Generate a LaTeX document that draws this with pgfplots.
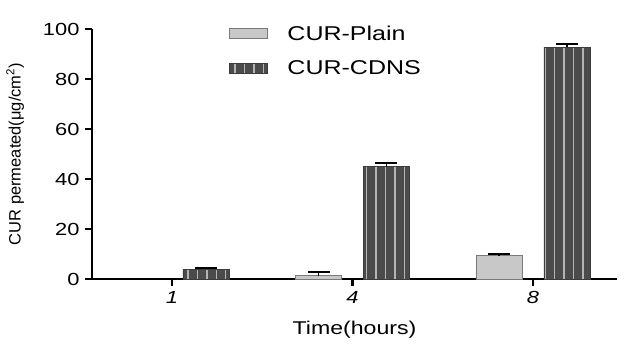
\documentclass[border=0pt]{standalone}
\usepackage{fontspec}
\setmainfont{Liberation Sans}[FakeStretch=1.25]
\newfontfamily\ylfont{Liberation Sans}
\usepackage{pgfplots}
\pgfplotsset{compat=1.18}
\usetikzlibrary{patterns.meta}
\definecolor{plainfill}{HTML}{C8C8C8}
\definecolor{plainedge}{HTML}{7A7A7A}
\definecolor{darkfill}{HTML}{4B4B4B}
\definecolor{stripe}{HTML}{B4B4B4}
\begin{document}
\begin{tikzpicture}
\begin{axis}[
  name=ax,
  scale only axis,
  width=525bp, height=250bp,
  xmin=-0.443, xmax=2.465,
  ymin=0, ymax=100,
  axis lines=left,
  axis line style={-, line width=2.5bp, black},
  ytick={0,20,40,60,80,100},
  xtick={0,1,2},
  xticklabels={\textit{1},\textit{4},\textit{8}},
  tick align=outside,
  major tick length=7bp,
  tick style={line width=2.5bp, black},
  /pgf/number format/assume math mode=true,
  tick label style={font=\fontsize{17.5bp}{20bp}\selectfont},
  yticklabel style={xshift=-2bp},
  xticklabel style={yshift=-2bp},
  xlabel={Time(hours)},
  xlabel style={font=\fontsize{18.5bp}{22bp}\selectfont, yshift=-10bp},
  ylabel={\ylfont CUR permeated(μg/cm\textsuperscript{2})},
  ylabel style={font=\fontsize{16.5bp}{19bp}\selectfont, yshift=12bp},
  legend style={draw=none, fill=none, at={(0.26,1.022)}, anchor=north west,
    font=\fontsize{20bp}{24bp}\selectfont, row sep=15bp, inner sep=0pt,
    /tikz/every odd column/.append style={column sep=18bp}},
  legend cell align=left,
  clip=false,
]
\addplot[ybar, bar width=46bp, bar shift=0pt, fill=plainfill, draw=plainedge, line width=0.8bp,
  legend image code/.code={\draw[fill=plainfill, draw=plainedge, line width=0.8bp] (0bp,-5bp) rectangle (38bp,5bp);},
  error bars/.cd, y dir=plus, y explicit,
  error bar style={line width=1.5bp, black},
  error mark options={rotate=90, mark size=11bp, line width=2.2bp, black}]
  coordinates {(0.812,1.4) +- (0,1.4) (1.812,9.4) +- (0,0.7)};
\addlegendentry{CUR-Plain}
\addplot[ybar, bar width=46bp, bar shift=0pt, fill=darkfill, draw=darkfill!80!black, line width=0.8bp,
  postaction={pattern={Lines[angle=90,distance=9.4bp,line width=1.4bp]}, pattern color=stripe},
  legend image code/.code={\draw[fill=darkfill, draw=darkfill!80!black, line width=0.8bp, postaction={pattern={Lines[angle=90,distance=9.4bp,line width=1.4bp]}, pattern color=stripe}] (0bp,-5bp) rectangle (38bp,5bp);},
  error bars/.cd, y dir=plus, y explicit,
  error bar style={line width=1.5bp, black},
  error mark options={rotate=90, mark size=11bp, line width=2.2bp, black}]
  coordinates {(0.188,4.0) +- (0,0.4) (1.188,44.9) +- (0,1.4) (2.188,92.7) +- (0,1.2)};
\addlegendentry{CUR-CDNS}
\end{axis}
\path[use as bounding box] ([shift={(-92bp,-66bp)}]ax.south west) rectangle ([shift={(7bp,29bp)}]ax.north east);
\end{tikzpicture}
\end{document}
